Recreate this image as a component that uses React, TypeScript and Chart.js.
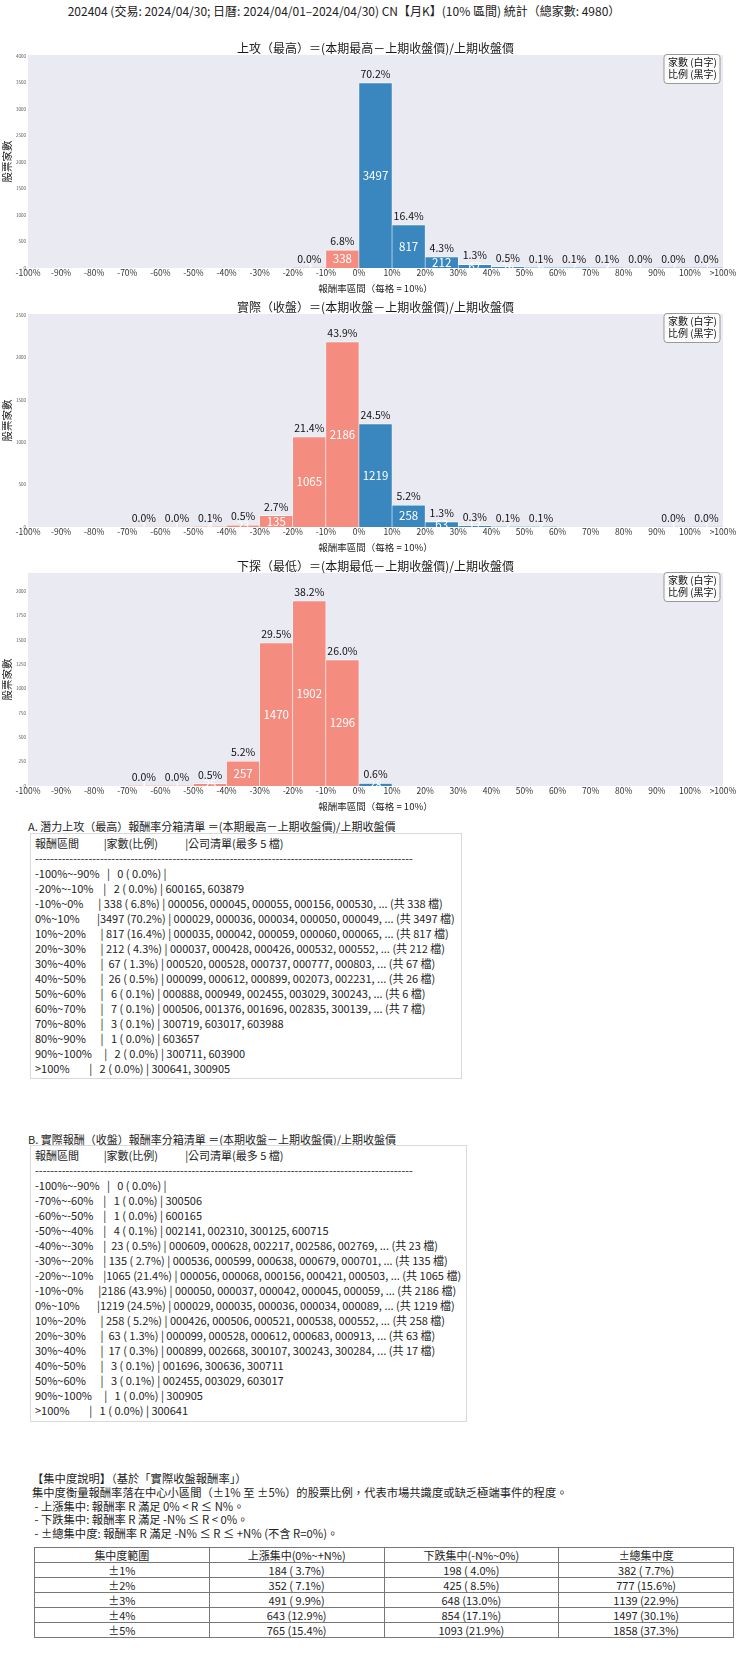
import React, { useEffect, useRef } from "react";
import Chart from "chart.js/auto";

const FONT = '"Noto Sans CJK TC", "Noto Sans CJK SC", "Noto Sans", sans-serif';
const TOTAL = 4980;

// bins: each 10% wide, the last one is ">100%"
const binStarts = [-100, -90, -80, -70, -60, -50, -40, -30, -20, -10, 0, 10, 20, 30, 40, 50, 60, 70, 80, 90, 100];
const binLabels = [
  "-100%~-90%", "-90%~-80%", "-80%~-70%", "-70%~-60%", "-60%~-50%", "-50%~-40%", "-40%~-30%",
  "-30%~-20%", "-20%~-10%", "-10%~0%", "0%~10%", "10%~20%", "20%~30%", "30%~40%", "40%~50%",
  "50%~60%", "60%~70%", "70%~80%", "80%~90%", "90%~100%", ">100%",
];

const highCounts = [0, 0, 0, 0, 0, 0, 0, 0, 2, 338, 3497, 817, 212, 67, 26, 6, 7, 3, 1, 2, 2];
const closeCounts = [0, 0, 0, 1, 1, 4, 23, 135, 1065, 2186, 1219, 258, 63, 17, 3, 3, 0, 0, 0, 1, 1];
const lowCounts = [0, 0, 0, 1, 1, 25, 257, 1470, 1902, 1296, 28, 0, 0, 0, 0, 0, 0, 0, 0, 0, 0];

const highTicks = [0, 500, 1000, 1500, 2000, 2500, 3000, 3500, 4000];
const closeTicks = [0, 500, 1000, 1500, 2000, 2500];
const lowTicks = [0, 250, 500, 750, 1000, 1250, 1500, 1750, 2000];

const highCodes = [
  "", "", "", "", "", "", "", "",
  "600165, 603879",
  "000056, 000045, 000055, 000156, 000530",
  "000029, 000036, 000034, 000050, 000049",
  "000035, 000042, 000059, 000060, 000065",
  "000037, 000428, 000426, 000532, 000552",
  "000520, 000528, 000737, 000777, 000803",
  "000099, 000612, 000899, 002073, 002231",
  "000888, 000949, 002455, 003029, 300243",
  "000506, 001376, 001696, 002835, 300139",
  "300719, 603017, 603988",
  "603657",
  "300711, 603900",
  "300641, 300905",
];
const closeCodes = [
  "", "", "",
  "300506",
  "600165",
  "002141, 002310, 300125, 600715",
  "000609, 000628, 002217, 002586, 002769",
  "000536, 000599, 000638, 000679, 000701",
  "000056, 000068, 000156, 000421, 000503",
  "000050, 000037, 000042, 000045, 000059",
  "000029, 000035, 000036, 000034, 000089",
  "000426, 000506, 000521, 000538, 000552",
  "000099, 000528, 000612, 000683, 000913",
  "000899, 002668, 300107, 300243, 300284",
  "001696, 300636, 300711",
  "002455, 003029, 603017",
  "", "", "",
  "300905",
  "300641",
];

const concRanges = ["±1%", "±2%", "±3%", "±4%", "±5%"];
const concUp = [184, 352, 491, 643, 765];
const concDown = [198, 425, 648, 854, 1093];
const concAll = [382, 777, 1139, 1497, 1858];

const BLUE = "#3987BE";
const SALMON = "#F48C80";
const PLOT_BG = "#EAEAF2";

const pct = (c: number) => ((c / TOTAL) * 100).toFixed(1) + "%";

const decorPlugin = {
  id: "decor",
  beforeDraw(chart: any) {
    const { ctx, chartArea } = chart;
    ctx.save();
    ctx.fillStyle = PLOT_BG;
    ctx.fillRect(chartArea.left, chartArea.top, chartArea.width, chartArea.height);
    ctx.restore();
  },
  afterDatasetsDraw(chart: any, _a: any, opts: any) {
    const { ctx } = chart;
    const counts: number[] = opts.counts;
    const meta = chart.getDatasetMeta(0);
    ctx.save();
    ctx.textAlign = "center";
    ctx.textBaseline = "middle";
    meta.data.forEach((el: any, i: number) => {
      const c = counts[i];
      if (!c) return;
      ctx.fillStyle = "#ffffff";
      ctx.font = `11.5px ${FONT}`;
      ctx.fillText(String(c), el.x, (el.y + el.base) / 2);
      ctx.fillStyle = "#111111";
      ctx.font = `10.5px ${FONT}`;
      ctx.fillText(pct(c), el.x, el.y - 9);
    });
    ctx.restore();
  },
  afterDraw(chart: any, _a: any, opts: any) {
    const { ctx, chartArea } = chart;
    ctx.save();
    // title centred over the plot
    ctx.fillStyle = "#1a1a1a";
    ctx.font = `12px ${FONT}`;
    ctx.textAlign = "center";
    ctx.textBaseline = "middle";
    ctx.fillText(opts.title, (chartArea.left + chartArea.right) / 2, 10);
    // legend note box
    const w = 56;
    const h = 29;
    const x = chartArea.right - 3 - w;
    const y = chartArea.top - 0.5;
    ctx.beginPath();
    ctx.roundRect(x, y, w, h, 3);
    ctx.fillStyle = "rgba(255,255,255,0.85)";
    ctx.fill();
    ctx.strokeStyle = "#999999";
    ctx.lineWidth = 1;
    ctx.stroke();
    ctx.fillStyle = "#111111";
    ctx.font = `10px ${FONT}`;
    ctx.textAlign = "left";
    ctx.fillText("家數 (白字)", x + 4, y + 8);
    ctx.fillText("比例 (黑字)", x + 4, y + 19.5);
    ctx.restore();
  },
};

type HistProps = { title: string; counts: number[]; yTicks: number[]; top: number };

const HistChart = ({ title, counts, yTicks, top }: HistProps) => {
  const canvasRef = useRef<HTMLCanvasElement>(null);

  useEffect(() => {
    const yMax = Math.max(...counts) * 1.15;
    const chart = new Chart(canvasRef.current as HTMLCanvasElement, {
      type: "bar",
      data: {
        datasets: [
          {
            data: binStarts.map((s, i) => ({ x: s + 5, y: counts[i] })),
            backgroundColor: binStarts.map((s) => (s < 0 ? SALMON : BLUE)),
            borderColor: "#ffffff",
            borderWidth: { top: 0.8, left: 0.6, right: 0.6, bottom: 0 },
            barPercentage: 1,
            categoryPercentage: 1,
          },
        ],
      },
      options: {
        animation: false,
        responsive: false,
        layout: { padding: { top: 17, right: 17, left: 0, bottom: 0 } },
        plugins: {
          legend: { display: false },
          tooltip: { enabled: false },
          decor: { counts, title },
        } as any,
        scales: {
          x: {
            type: "linear",
            min: -100,
            max: 110,
            offset: false,
            grid: { display: false, drawTicks: false, offset: false },
            border: { display: false },
            ticks: {
              stepSize: 10,
              autoSkip: false,
              maxRotation: 0,
              padding: 0,
              color: "#333333",
              font: { size: 8.5, family: FONT },
              callback: (v: any) => (v > 100 ? ">100%" : `${v}%`),
            },
            title: {
              display: true,
              text: "報酬率區間（每格 = 10%）",
              color: "#222222",
              font: { size: 9.5, family: FONT },
              padding: { top: 0, bottom: 3.3 },
            },
            afterFit: (s: any) => {
              s.height = 29;
            },
          },
          y: {
            min: 0,
            max: yMax,
            grid: { display: false, drawTicks: false },
            border: { display: false },
            afterBuildTicks: (s: any) => {
              s.ticks = yTicks.map((v) => ({ value: v }));
            },
            ticks: {
              padding: 2,
              color: "#555555",
              font: { size: 4.5, family: FONT },
              callback: (v: any) => String(v),
            },
            title: {
              display: true,
              text: "股票家數",
              color: "#222222",
              font: { size: 10.5, family: FONT },
              padding: { top: 1, bottom: 0 },
            },
            afterFit: (s: any) => {
              s.width = 28;
            },
          },
        },
      },
      plugins: [decorPlugin],
    } as any);
    return () => chart.destroy();
  }, [counts, title, yTicks]);

  return (
    <canvas
      ref={canvasRef}
      width={740}
      height={259}
      style={{ position: "absolute", left: 0, top, width: 740, height: 259 }}
    />
  );
};

const tableRows = (counts: number[], codes: string[]) =>
  counts
    .map((c, i) => ({ c, i }))
    .filter(({ c, i }) => i === 0 || c > 0)
    .map(({ c, i }) => {
      const more = c > 5 ? `, ... (共 ${c} 檔)` : "";
      return `${binLabels[i].padEnd(13)}|${String(c).padStart(4)} (${pct(c).padStart(5)}) | ${codes[i]}${more}`;
    });

const HEADER = "報酬區間" + " ".repeat(10) + "|家數(比例)" + " ".repeat(11) + "|公司清單(最多 5 檔)";
const DASHES = "-".repeat(99);

const BinBox = ({ top, height, width, rows }: { top: number; height: number; width: number; rows: string[] }) => (
  <div
    style={{
      position: "absolute",
      left: 30,
      top,
      width,
      height,
      boxSizing: "border-box",
      border: "1px solid #d9d9d9",
      padding: "2px 4px 0 4px",
      whiteSpace: "pre",
      lineHeight: "15px",
      fontSize: 11,
      color: "#222",
    }}
  >
    {[HEADER, DASHES, ...rows].map((r, k) => (
      <div key={k}>{r}</div>
    ))}
  </div>
);

const cellFmt = (c: number) => `${c} (${pct(c).padStart(5)})`;

export default function App() {
  const td: React.CSSProperties = {
    border: "1px solid #777",
    padding: 0,
    height: 14,
    lineHeight: "14px",
    textAlign: "center",
    width: "25%",
  };
  return (
    <div
      style={{
        position: "absolute",
        left: 0,
        top: 0,
        width: 740,
        height: 1660,
        background: "#fff",
        fontFamily: FONT,
        color: "#222",
      }}
    >
      <div style={{ position: "absolute", left: 0, top: 3, width: 688, textAlign: "center", fontSize: 12, lineHeight: "16px", whiteSpace: "pre" }}>
        202404 (交易: 2024/04/30; 日曆: 2024/04/01–2024/04/30) CN【月K】(10% 區間) 統計（總家數: 4980）
      </div>

      <HistChart title="上攻（最高）＝(本期最高－上期收盤價)/上期收盤價" counts={highCounts} yTicks={highTicks} top={38} />
      <HistChart title="實際（收盤）＝(本期收盤－上期收盤價)/上期收盤價" counts={closeCounts} yTicks={closeTicks} top={297} />
      <HistChart title="下探（最低）＝(本期最低－上期收盤價)/上期收盤價" counts={lowCounts} yTicks={lowTicks} top={556} />

      <div style={{ position: "absolute", left: 28, top: 818.5, fontSize: 11, lineHeight: "15px", whiteSpace: "pre" }}>
        A. 潛力上攻（最高）報酬率分箱清單 ＝(本期最高－上期收盤價)/上期收盤價
      </div>
      <BinBox top={833} height={246} width={432} rows={tableRows(highCounts, highCodes)} />

      <div style={{ position: "absolute", left: 28, top: 1131.5, fontSize: 11, lineHeight: "15px", whiteSpace: "pre" }}>
        B. 實際報酬（收盤）報酬率分箱清單 ＝(本期收盤－上期收盤價)/上期收盤價
      </div>
      <BinBox top={1145} height={277} width={437} rows={tableRows(closeCounts, closeCodes)} />

      <div style={{ position: "absolute", left: 32, top: 1472, fontSize: 11.3, lineHeight: "13.75px", whiteSpace: "pre" }}>
        <div>【集中度說明】（基於「實際收盤報酬率」）</div>
        <div>集中度衡量報酬率落在中心小區間（±1% 至 ±5%）的股票比例，代表市場共識度或缺乏極端事件的程度。</div>
        <div> - 上漲集中: 報酬率 R 滿足 0% &lt; R ≤ N%。</div>
        <div> - 下跌集中: 報酬率 R 滿足 -N% ≤ R &lt; 0%。</div>
        <div> - ±總集中度: 報酬率 R 滿足 -N% ≤ R ≤ +N% (不含 R=0%)。</div>
      </div>

      <table
        style={{
          position: "absolute",
          left: 34,
          top: 1547,
          width: 700,
          borderCollapse: "collapse",
          fontSize: 11,
          color: "#222",
          tableLayout: "fixed",
        }}
      >
        <tbody>
          <tr>
            <td style={td}>集中度範圍</td>
            <td style={td}>上漲集中(0%~+N%)</td>
            <td style={td}>下跌集中(-N%~0%)</td>
            <td style={td}>±總集中度</td>
          </tr>
          {concRanges.map((r, i) => (
            <tr key={r}>
              <td style={td}>{r}</td>
              <td style={td}>{cellFmt(concUp[i])}</td>
              <td style={td}>{cellFmt(concDown[i])}</td>
              <td style={td}>{cellFmt(concAll[i])}</td>
            </tr>
          ))}
        </tbody>
      </table>
    </div>
  );
}
